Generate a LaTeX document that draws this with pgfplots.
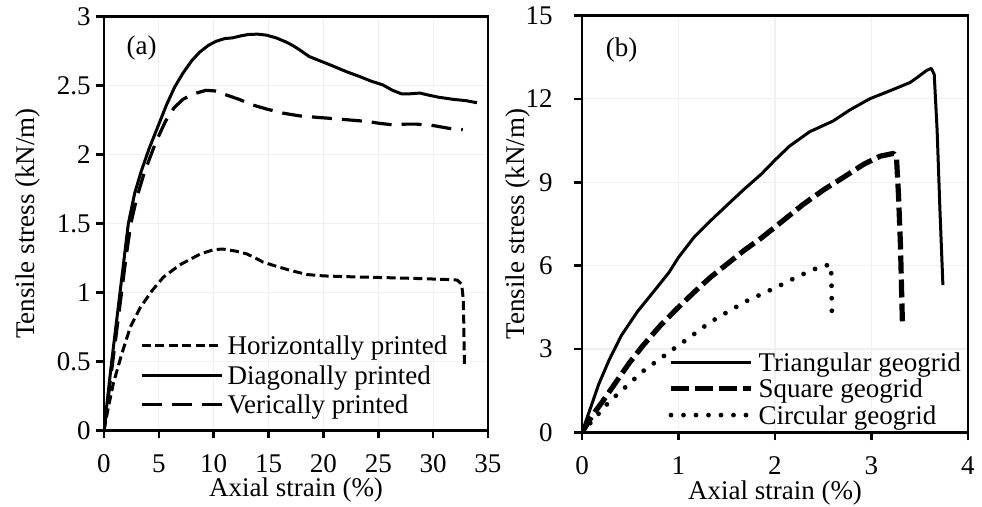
\documentclass[border=0pt]{standalone}
\usepackage{fontspec}
\setmainfont{Liberation Serif}
\usepackage{pgfplots}
\pgfplotsset{compat=1.18}

\pgfplotsset{
  panel/.style={
    scale only axis,
    axis line style={line width=1.3pt},
    tick style={line width=1.3pt, black},
    major tick length=4pt,
    tick align=outside,
    xtick pos=bottom, ytick pos=left,
    grid=major,
    major grid style={line width=0.6pt, gray!12},
    /pgf/number format/assume math mode=true,
    yticklabel style={anchor=east, inner sep=0pt},
    xticklabel style={anchor=north, inner sep=0pt, yshift=-8pt},
    legend style={draw=none, fill=none, inner sep=0pt, anchor=south west,
      column sep=2pt, row sep=0pt, cells={anchor=base west}},
    legend image code/.code={\draw[#1] (0pt,4.5pt) -- (40pt,4.5pt);},
    every axis plot/.append style={mark=none, black, line join=round},
  },
}

\begin{document}
\fontsize{13.5}{16}\selectfont
\begin{tikzpicture}
% (a) printing direction
\begin{axis}[panel, width=192pt, height=207pt,
  xmin=0, xmax=35, ymin=0, ymax=3,
  xtick={0,5,...,35}, ytick={0,0.5,1,1.5,2,2.5,3},
  yticklabel style={xshift=-2.5pt},
  xlabel={Axial strain (\%)}, ylabel={Tensile stress (kN/m)},
  xlabel style={at={([yshift=-30pt]axis description cs:0.5,0)}, anchor=center},
  ylabel style={at={([xshift=-38pt]axis description cs:0,0.5)}, anchor=center},
  legend style={at={(0.09375,0.0145)},
    nodes={inner sep=0pt, text height=9.5pt, text depth=5.25pt}},
]
\addplot[line width=1.5pt, dash pattern=on 4.5pt off 2.2pt] coordinates {
(0,0) (0.4,0.17) (0.85,0.34) (1.6,0.55) (2.4,0.75) (3.3,0.89) (4.35,1.01)
(5.4,1.11) (6.9,1.20) (8.8,1.28) (10.0,1.31) (10.8,1.315) (12.0,1.30)
(13.0,1.28) (13.8,1.25) (14.5,1.22) (15.7,1.19) (17.0,1.16) (18.5,1.13)
(20.1,1.12) (22.0,1.115) (24.4,1.11) (27.0,1.105) (29.1,1.10) (31.0,1.095)
(32.2,1.09) (32.6,1.06) (32.75,0.95) (32.8,0.75) (32.85,0.47)
};
\addplot[line width=1.5pt] coordinates {
(0,0) (0.35,0.25) (0.7,0.5) (1.08,0.75) (1.46,1.0) (1.84,1.25) (2.22,1.5)
(2.8,1.72) (3.4,1.88) (4.1,2.04) (4.9,2.2) (5.7,2.36) (6.45,2.49) (7.2,2.59)
(8.0,2.68) (8.7,2.74) (9.5,2.79) (10.2,2.82) (11.0,2.84) (11.7,2.845)
(12.5,2.86) (13.2,2.87) (14.0,2.872) (14.8,2.865) (15.7,2.845) (16.6,2.815)
(17.2,2.79) (17.8,2.76) (18.7,2.71) (19.8,2.675) (20.9,2.64) (22.1,2.6)
(23.3,2.565) (24.4,2.53) (25.4,2.505) (26.3,2.465) (27.1,2.44) (27.9,2.44)
(28.8,2.445) (29.6,2.43) (30.5,2.415) (31.8,2.40) (33.0,2.39) (34.0,2.375)
};
\addplot[line width=1.6pt, dash pattern=on 10pt off 5pt] coordinates {
(0,0) (0.4,0.25) (0.8,0.5) (1.2,0.75) (1.6,1.0) (2.0,1.25) (2.45,1.5)
(3.0,1.69) (3.6,1.85) (4.2,1.98) (4.73,2.09) (5.6,2.24) (6.4,2.34) (7.2,2.40)
(8.2,2.44) (9.3,2.465) (10.2,2.46) (11.2,2.43) (12.3,2.40) (13.5,2.36)
(14.8,2.33) (16.3,2.30) (17.8,2.28) (19.3,2.27) (20.9,2.26) (22.4,2.25)
(23.9,2.24) (25.2,2.225) (26.3,2.215) (27.5,2.22) (28.5,2.22) (30.0,2.21)
(31.4,2.19) (32.7,2.18)
};
\legend{Horizontally printed, Diagonally printed, Verically printed}
\node at ([xshift=18.85pt, yshift=191pt]rel axis cs:0,0) {(a)};
\end{axis}

% (b) geogrid shape
\begin{axis}[panel, at={(239pt,-1pt)}, width=193pt, height=208.5pt,
  xmin=0, xmax=4, ymin=0, ymax=15,
  xtick={0,1,2,3,4}, ytick={0,3,6,9,12,15},
  yticklabel style={xshift=-10.5pt},
  xlabel={Axial strain (\%)}, ylabel={Tensile stress (kN/m)},
  xlabel style={at={([yshift=-30.5pt]axis description cs:0.5,0)}, anchor=center},
  ylabel style={at={([xshift=-32pt]axis description cs:0,0.5)}, anchor=center},
  legend style={at={(0.2228,0.0012)}, column sep=2.5pt,
    nodes={inner sep=0pt, text height=9.5pt, text depth=3.75pt}},
]
\addplot[line width=1.5pt] coordinates {
(0,0) (0.07,0.7) (0.175,1.75) (0.28,2.6) (0.41,3.5) (0.575,4.35) (0.75,5.1)
(0.9,5.75) (1.0,6.3) (1.16,7.02) (1.33,7.61) (1.51,8.2) (1.68,8.75)
(1.86,9.3) (2.0,9.8) (2.15,10.3) (2.36,10.82) (2.6,11.2) (2.77,11.59)
(2.98,12.0) (3.19,12.29) (3.4,12.59) (3.47,12.76) (3.57,13.02) (3.62,13.1)
(3.65,12.88) (3.68,10.88) (3.71,7.94) (3.74,5.3)
};
\addplot[line width=2.6pt, dash pattern=on 9pt off 3pt] coordinates {
(0,0) (0.105,0.6) (0.21,1.1) (0.35,1.8) (0.49,2.5) (0.63,3.12) (0.81,3.84)
(0.98,4.44) (1.16,5.04) (1.33,5.58) (1.51,6.08) (1.68,6.55) (1.86,7.0)
(2.04,7.5) (2.29,8.2) (2.5,8.72) (2.71,9.18) (2.92,9.65) (3.09,9.94)
(3.23,10.04) (3.26,9.82) (3.28,8.53) (3.30,6.76) (3.32,4.0)
};
\addplot[line width=2.4pt, line cap=round, dash pattern=on 0pt off 6.25pt] coordinates {
(0,0) (0.14,0.55) (0.28,1.1) (0.456,1.65) (0.63,2.2) (0.906,2.9) (1.1,3.38)
(1.32,3.95) (1.5,4.32) (1.7,4.72) (2.03,5.25) (2.2,5.55) (2.39,5.85) (2.5,6.0)
(2.58,6.03) (2.585,5.5) (2.59,4.2)
};
\legend{Triangular geogrid, Square geogrid, Circular geogrid}
\node at ([xshift=19.85pt, yshift=191pt]rel axis cs:0,0) {(b)};
\end{axis}
\pgfresetboundingbox
\path (-52pt,-38.25pt) rectangle (439pt,215.25pt);
\end{tikzpicture}
\end{document}
